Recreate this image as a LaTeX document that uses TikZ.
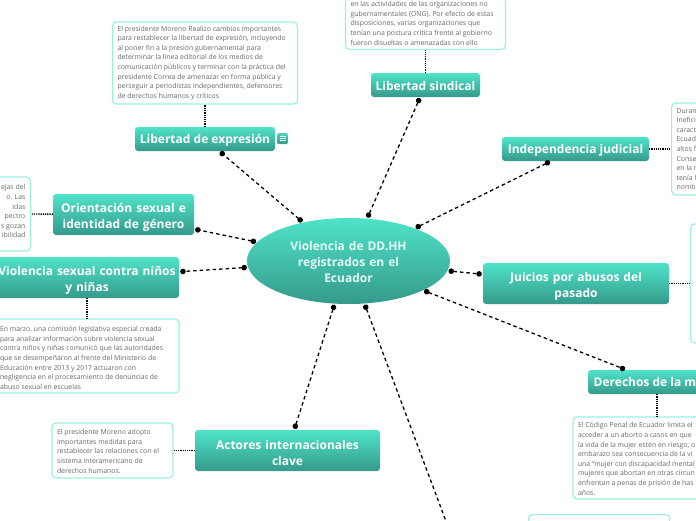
\documentclass[tikz,border=0pt]{standalone}
\usepackage{fontspec}
\setmainfont{Open Sans}
\usetikzlibrary{arrows.meta,calc,shapes.geometric}
\definecolor{TopClr}{HTML}{4FE3C9}
\definecolor{BotClr}{HTML}{359A8B}
\definecolor{NoteClr}{HTML}{9BF0E0}
\definecolor{NoteTxtClr}{HTML}{6A6A6A}
\definecolor{RootTxtClr}{HTML}{E4FAF6}
\tikzset{
  dropfirst/.style={execute at begin node={\rule{0pt}{#1}}},
  rootnode/.style={ellipse,inner sep=0pt,minimum width=203pt,minimum height=86pt,text width=140pt,top color=TopClr,bottom color=BotClr,align=center,text=RootTxtClr,font=\fontsize{12}{16.4}\selectfont\bfseries,dropfirst=11pt},
  topicbox/.style={rectangle,rounded corners=3pt,inner sep=0pt,top color=TopClr,bottom color=BotClr,align=center,text=white,font=\fontsize{12}{16}\selectfont\bfseries,dropfirst=12pt},
  notebox/.style={rectangle,rounded corners=4pt,draw=NoteClr,line width=1.2pt,fill=white,inner xsep=5pt,inner ysep=0pt,align=flush left,text=NoteTxtClr,font=\fontsize{6.9}{9.6}\selectfont},
  biglink/.style={line width=1.3pt,dash pattern=on 3.5pt off 3pt,{Circle[length=5.5pt,width=5.5pt]}-{Circle[length=5.5pt,width=5.5pt]},shorten >=1pt,shorten <=1pt},
  stublink/.style={line width=1.4pt,dash pattern=on 1.2pt off 1pt}
}

\begin{document}
\begin{tikzpicture}[x=1pt,y=-1pt]
\useasboundingbox (0,0) rectangle (696,520);
\clip (0,0) rectangle (696,520);

\node[rootnode] (root) at (348.5,261) {Violencia de DD.HH\\registrados en el\\Ecuador};

\node[topicbox,minimum width=140pt,minimum height=24pt] (expresion) at (205,139) {Libertad de expresión};
\node[topicbox,minimum width=109pt,minimum height=24pt] (sindical) at (425.5,85) {Libertad sindical};
\node[topicbox,minimum width=147pt,minimum height=24pt] (judicial) at (575.5,149) {Independencia judicial};
\node[topicbox,text width=186pt,minimum height=41pt,dropfirst=14pt] (juicios) at (576,283.5) {Juicios por abusos del\\pasado};
\node[topicbox,minimum width=138pt,minimum height=24pt] (mujer) at (657,382) {Derechos de la mujer};
\node[topicbox,text width=185pt,minimum height=41pt,dropfirst=14pt] (actores) at (287.5,450.5) {Actores internacionales\\clave};
\node[topicbox,text width=184pt,minimum height=41pt,dropfirst=14pt] (ninos) at (87,277.5) {Violencia sexual contra niños\\y niñas};
\node[topicbox,text width=141pt,minimum height=41pt,dropfirst=14pt] (genero) at (123.5,214.5) {Orientación sexual e\\identidad de género};
\coordinate (abajo) at (453,540);

\node[notebox,text width=175pt,minimum height=82pt] (expresionnote) at (205,63) {El presidente Moreno Realizo cambios importantes\\para restablecer la libertad de expresión, incluyendo\\al poner fin a la presión gubernamental para\\determinar la línea editorial de los medios de\\comunicación públicos y terminar con la práctica del\\presidente Correa de amenazar en forma pública y\\perseguir a periodistas independientes, defensores\\de derechos humanos y críticos};
\node[notebox,text width=150pt,minimum height=52pt,anchor=south] (sindicalnote) at (425.5,50) {en las actividades de las organizaciones no\\gubernamentales (ONG). Por efecto de estas\\disposiciones, varias organizaciones que\\tenían una postura crítica frente al gobierno\\fueron disueltas o amenazadas con ello};
\node[notebox,text width=120pt,minimum height=92pt,anchor=west] (judicialnote) at (671,149) {Duran\\Inefici\\caract\\Ecuad\\altos f\\Consej\\en la n\\tenía l\\nombr};
\node[notebox,minimum width=100pt,minimum height=119pt,anchor=west] (juiciosnote) at (690,283.5) {};
\node[notebox,dropfirst=7pt,text width=158pt,minimum height=82pt] (mujernote) at (657,458) {El Código Penal de Ecuador limita el\\acceder a un aborto a casos en que\\la vida de la mujer estén en riesgo, o\\embarazo sea consecuencia de la vi\\una “mujer con discapacidad mental\\mujeres que abortan en otras circun\\enfrentan a penas de prisión de has\\años.};
\node[notebox,minimum width=141pt,minimum height=30pt,anchor=north west] (abajonote) at (528,514) {};
\node[notebox,dropfirst=7pt,text width=111pt,minimum height=55pt] (actoresnote) at (112.5,450.5) {El presidente Moreno adopto\\importantes medidas para\\restablecer las relaciones con el\\sistema interamericano de\\derechos humanos.};
\node[notebox,dropfirst=9pt,text width=174pt,minimum height=74pt] (ninosnote) at (87,356) {En marzo, una comisión legislativa especial creada\\para analizar información sobre violencia sexual\\contra niños y niñas comunicó que las autoridades\\que se desempeñaron al frente del Ministerio de\\Educación entre 2013 y 2017 actuaron con\\negligencia en el procesamiento de denuncias de\\abuso sexual en escuelas};
\node[notebox,text width=50pt,minimum height=74pt,align=flush right,anchor=east] (generonote) at (31,214) {ejas del\hspace*{3pt}\\o. Las\hspace*{9pt}\\idas\hspace*{13pt}\\pectro\hspace*{8pt}\\s gozan\hspace*{2pt}\\ibilidad\hspace*{3pt}\\[-4pt]\mbox{}};

\node[rectangle,rounded corners=1.5pt,inner sep=0pt,minimum size=11pt,top color=TopClr!80!BotClr,bottom color=BotClr] (menuicon) at (282.5,138.5) {};
\foreach \dy in {-2.3,0,2.3}
  \draw[white,line width=.7pt] ($(menuicon)+(-3,\dy)$) -- ($(menuicon)+(3,\dy)$);

\foreach \topic in {expresion,sindical,judicial,juicios,mujer,actores,ninos,genero,abajo}
  \draw[biglink] (root) -- (\topic);

\draw[stublink] (expresion) -- (expresionnote);
\draw[stublink] (sindical) -- (sindicalnote.south);
\draw[stublink] (judicial) -- (judicialnote);
\draw[stublink] (juicios) -- (juiciosnote);
\draw[stublink] (mujer) -- (mujernote);
\draw[stublink] (actores) -- (actoresnote);
\draw[stublink] (ninos) -- (ninosnote);
\draw[stublink] (genero) -- (generonote.east);

\end{tikzpicture}
\end{document}
